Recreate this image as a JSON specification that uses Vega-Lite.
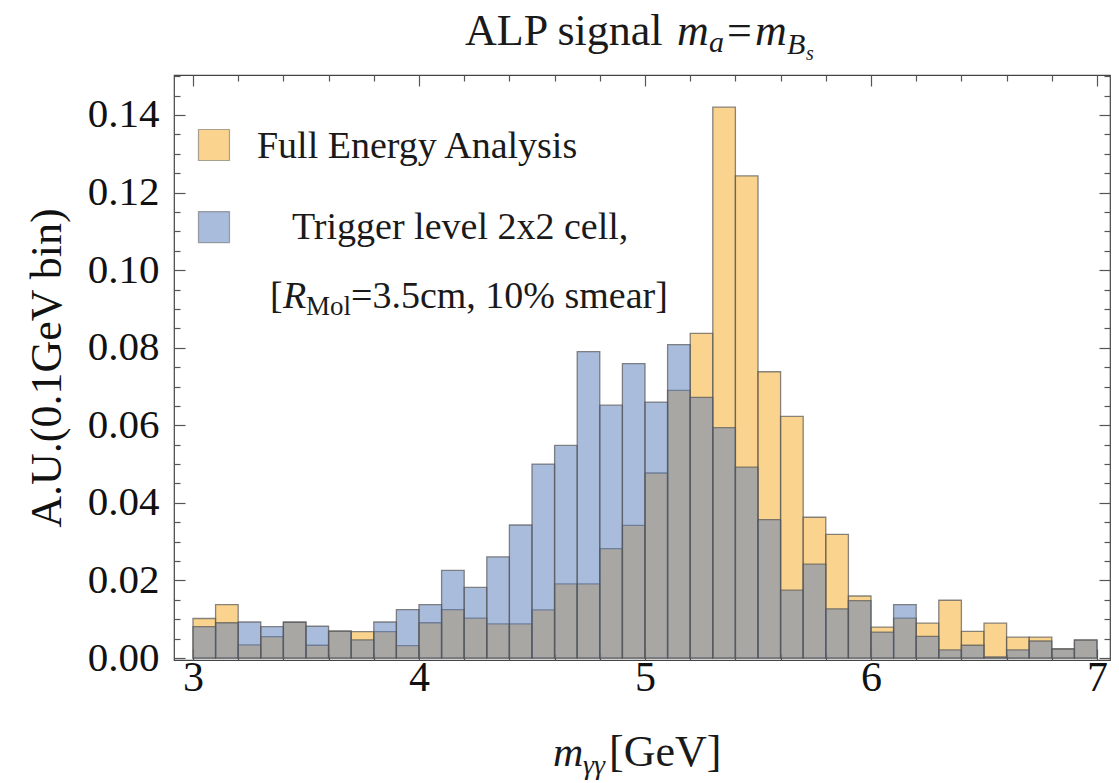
{
  "$schema": "https://vega.github.io/schema/vega-lite/v6.json",
  "width": 936,
  "height": 585,
  "autosize": {"type": "none"},
  "padding": {"left": 174, "top": 75, "right": 9, "bottom": 123},
  "background": "white",
  "config": {
    "view": {"stroke": "#444444", "strokeWidth": 1.2},
    "font": "Liberation Serif",
    "text": {"font": "Liberation Serif", "color": "#1a1a1a"}
  },
  "datasets": {
    "full": [
      {"x0": 3.0, "x1": 3.1, "y": 0.0102}, {"x0": 3.1, "x1": 3.2, "y": 0.0138},
      {"x0": 3.2, "x1": 3.3, "y": 0.0034}, {"x0": 3.3, "x1": 3.4, "y": 0.0055},
      {"x0": 3.4, "x1": 3.5, "y": 0.0093}, {"x0": 3.5, "x1": 3.6, "y": 0.0033},
      {"x0": 3.6, "x1": 3.7, "y": 0.0070}, {"x0": 3.7, "x1": 3.8, "y": 0.0068},
      {"x0": 3.8, "x1": 3.9, "y": 0.0068}, {"x0": 3.9, "x1": 4.0, "y": 0.0032},
      {"x0": 4.0, "x1": 4.1, "y": 0.0091}, {"x0": 4.1, "x1": 4.2, "y": 0.0125},
      {"x0": 4.2, "x1": 4.3, "y": 0.0103}, {"x0": 4.3, "x1": 4.4, "y": 0.0088},
      {"x0": 4.4, "x1": 4.5, "y": 0.0088}, {"x0": 4.5, "x1": 4.6, "y": 0.0124},
      {"x0": 4.6, "x1": 4.7, "y": 0.0191}, {"x0": 4.7, "x1": 4.8, "y": 0.0191},
      {"x0": 4.8, "x1": 4.9, "y": 0.0282}, {"x0": 4.9, "x1": 5.0, "y": 0.0342},
      {"x0": 5.0, "x1": 5.1, "y": 0.0477}, {"x0": 5.1, "x1": 5.2, "y": 0.0690},
      {"x0": 5.2, "x1": 5.3, "y": 0.0837}, {"x0": 5.3, "x1": 5.4, "y": 0.1420},
      {"x0": 5.4, "x1": 5.5, "y": 0.1243}, {"x0": 5.5, "x1": 5.6, "y": 0.0738},
      {"x0": 5.6, "x1": 5.7, "y": 0.0623}, {"x0": 5.7, "x1": 5.8, "y": 0.0363},
      {"x0": 5.8, "x1": 5.9, "y": 0.0319}, {"x0": 5.9, "x1": 6.0, "y": 0.0160},
      {"x0": 6.0, "x1": 6.1, "y": 0.0080}, {"x0": 6.1, "x1": 6.2, "y": 0.0103},
      {"x0": 6.2, "x1": 6.3, "y": 0.0090}, {"x0": 6.3, "x1": 6.4, "y": 0.0149},
      {"x0": 6.4, "x1": 6.5, "y": 0.0069}, {"x0": 6.5, "x1": 6.6, "y": 0.0090},
      {"x0": 6.6, "x1": 6.7, "y": 0.0054}, {"x0": 6.7, "x1": 6.8, "y": 0.0054},
      {"x0": 6.8, "x1": 6.9, "y": 0.0024}, {"x0": 6.9, "x1": 7.0, "y": 0.0047}
    ],
    "trigger": [
      {"x0": 3.0, "x1": 3.1, "y": 0.0081}, {"x0": 3.1, "x1": 3.2, "y": 0.0091},
      {"x0": 3.2, "x1": 3.3, "y": 0.0093}, {"x0": 3.3, "x1": 3.4, "y": 0.0081},
      {"x0": 3.4, "x1": 3.5, "y": 0.0092}, {"x0": 3.5, "x1": 3.6, "y": 0.0082},
      {"x0": 3.6, "x1": 3.7, "y": 0.0069}, {"x0": 3.7, "x1": 3.8, "y": 0.0047},
      {"x0": 3.8, "x1": 3.9, "y": 0.0093}, {"x0": 3.9, "x1": 4.0, "y": 0.0125},
      {"x0": 4.0, "x1": 4.1, "y": 0.0138}, {"x0": 4.1, "x1": 4.2, "y": 0.0226},
      {"x0": 4.2, "x1": 4.3, "y": 0.0182}, {"x0": 4.3, "x1": 4.4, "y": 0.0261},
      {"x0": 4.4, "x1": 4.5, "y": 0.0343}, {"x0": 4.5, "x1": 4.6, "y": 0.0500},
      {"x0": 4.6, "x1": 4.7, "y": 0.0548}, {"x0": 4.7, "x1": 4.8, "y": 0.0790},
      {"x0": 4.8, "x1": 4.9, "y": 0.0652}, {"x0": 4.9, "x1": 5.0, "y": 0.0759},
      {"x0": 5.0, "x1": 5.1, "y": 0.0660}, {"x0": 5.1, "x1": 5.2, "y": 0.0808},
      {"x0": 5.2, "x1": 5.3, "y": 0.0672}, {"x0": 5.3, "x1": 5.4, "y": 0.0594},
      {"x0": 5.4, "x1": 5.5, "y": 0.0492}, {"x0": 5.5, "x1": 5.6, "y": 0.0357},
      {"x0": 5.6, "x1": 5.7, "y": 0.0175}, {"x0": 5.7, "x1": 5.8, "y": 0.0242},
      {"x0": 5.8, "x1": 5.9, "y": 0.0127}, {"x0": 5.9, "x1": 6.0, "y": 0.0148},
      {"x0": 6.0, "x1": 6.1, "y": 0.0067}, {"x0": 6.1, "x1": 6.2, "y": 0.0138},
      {"x0": 6.2, "x1": 6.3, "y": 0.0056}, {"x0": 6.3, "x1": 6.4, "y": 0.0021},
      {"x0": 6.4, "x1": 6.5, "y": 0.0033}, {"x0": 6.5, "x1": 6.6, "y": 0.0003},
      {"x0": 6.6, "x1": 6.7, "y": 0.0021}, {"x0": 6.7, "x1": 6.8, "y": 0.0044},
      {"x0": 6.8, "x1": 6.9, "y": 0.0023}, {"x0": 6.9, "x1": 7.0, "y": 0.0046}
    ]
  },
  "layer": [
    {
      "data": {"name": "full"},
      "mark": {"type": "bar", "fill": "#F5A91D", "fillOpacity": 0.5, "stroke": "#555555", "strokeOpacity": 0.7, "strokeWidth": 1.3},
      "encoding": {
        "x": {
          "field": "x0", "type": "quantitative",
          "scale": {"domain": [2.916, 7.0575], "nice": false, "zero": false},
          "axis": {
            "orient": "bottom",
            "values": [3, 3.2, 3.4, 3.6, 3.8, 4, 4.2, 4.4, 4.6, 4.8, 5, 5.2, 5.4, 5.6, 5.8, 6, 6.2, 6.4, 6.6, 6.8, 7],
            "labelExpr": "abs(datum.value - round(datum.value)) < 1e-6 ? format(datum.value, '.0f') : ''",
            "tickSize": {"condition": {"test": "abs(datum.value - round(datum.value)) < 1e-6", "value": -11}, "value": -6},
            "tickColor": "#555555", "tickWidth": 1.2,
            "domain": false, "grid": false,
            "labelFont": "Liberation Serif", "labelFontSize": 42, "labelColor": "#111111",
            "labelPadding": 8, "labelOverlap": false, "labelFlush": false, "labelBound": false,
            "title": null
          }
        },
        "x2": {"field": "x1"},
        "y": {
          "field": "y", "type": "quantitative",
          "scale": {"domain": [-0.0005, 0.1503], "nice": false, "zero": false},
          "axis": {
            "orient": "left",
            "values": [0, 0.005, 0.01, 0.015, 0.02, 0.025, 0.03, 0.035, 0.04, 0.045, 0.05, 0.055, 0.06, 0.065, 0.07, 0.075, 0.08, 0.085, 0.09, 0.095, 0.1, 0.105, 0.11, 0.115, 0.12, 0.125, 0.13, 0.135, 0.14, 0.145, 0.15],
            "labelExpr": "abs(datum.value * 50 - round(datum.value * 50)) < 1e-6 ? format(datum.value, '.2f') : ''",
            "tickSize": {"condition": {"test": "abs(datum.value * 50 - round(datum.value * 50)) < 1e-6", "value": -11}, "value": -6},
            "tickColor": "#555555", "tickWidth": 1.2,
            "domain": false, "grid": false,
            "labelFont": "Liberation Serif", "labelFontSize": 41, "labelColor": "#111111",
            "labelPadding": 26, "labelOverlap": false, "labelFlush": false, "labelBound": false,
            "title": "A.U.(0.1GeV bin)",
            "titleFont": "Liberation Serif", "titleFontSize": 44, "titleFontWeight": "normal", "titleColor": "#111111",
            "titlePadding": 18
          }
        },
        "y2": {"datum": 0}
      }
    },
    {
      "data": {"name": "trigger"},
      "mark": {"type": "bar", "fill": "#5579B9", "fillOpacity": 0.5, "stroke": "#555555", "strokeOpacity": 0.7, "strokeWidth": 1.3},
      "encoding": {
        "x": {
          "field": "x0", "type": "quantitative",
          "scale": {"domain": [2.916, 7.0575], "nice": false, "zero": false},
          "axis": {
            "orient": "top",
            "values": [3, 3.2, 3.4, 3.6, 3.8, 4, 4.2, 4.4, 4.6, 4.8, 5, 5.2, 5.4, 5.6, 5.8, 6, 6.2, 6.4, 6.6, 6.8, 7],
            "labels": false,
            "tickSize": {"condition": {"test": "abs(datum.value - round(datum.value)) < 1e-6", "value": -11}, "value": -6},
            "tickColor": "#555555", "tickWidth": 1.2,
            "domain": false, "grid": false, "title": null
          }
        },
        "x2": {"field": "x1"},
        "y": {
          "field": "y", "type": "quantitative",
          "scale": {"domain": [-0.0005, 0.1503], "nice": false, "zero": false},
          "axis": {
            "orient": "right",
            "values": [0, 0.005, 0.01, 0.015, 0.02, 0.025, 0.03, 0.035, 0.04, 0.045, 0.05, 0.055, 0.06, 0.065, 0.07, 0.075, 0.08, 0.085, 0.09, 0.095, 0.1, 0.105, 0.11, 0.115, 0.12, 0.125, 0.13, 0.135, 0.14, 0.145, 0.15],
            "labels": false,
            "tickSize": {"condition": {"test": "abs(datum.value * 50 - round(datum.value * 50)) < 1e-6", "value": -11}, "value": -6},
            "tickColor": "#555555", "tickWidth": 1.2,
            "domain": false, "grid": false, "title": null
          }
        },
        "y2": {"datum": 0}
      }
    },
    {
      "data": {"values": [{}]},
      "mark": {"type": "square", "size": 961, "filled": true, "fill": "#F5A91D", "fillOpacity": 0.5, "stroke": "#555555", "strokeOpacity": 0.5, "strokeWidth": 1.2},
      "encoding": {
        "x": {"datum": 3.0929, "type": "quantitative", "scale": {"domain": [2.916, 7.0575], "nice": false, "zero": false}, "axis": null},
        "y": {"datum": 0.13225, "type": "quantitative", "scale": {"domain": [-0.0005, 0.1503], "nice": false, "zero": false}, "axis": null}
      }
    },
    {
      "data": {"values": [{}]},
      "mark": {"type": "square", "size": 961, "filled": true, "fill": "#5579B9", "fillOpacity": 0.5, "stroke": "#555555", "strokeOpacity": 0.5, "strokeWidth": 1.2},
      "encoding": {
        "x": {"datum": 3.0929, "type": "quantitative", "scale": {"domain": [2.916, 7.0575], "nice": false, "zero": false}, "axis": null},
        "y": {"datum": 0.11111, "type": "quantitative", "scale": {"domain": [-0.0005, 0.1503], "nice": false, "zero": false}, "axis": null}
      }
    },
    {
      "data": {"values": [{}]},
      "mark": {"type": "text", "text": "Full Energy Analysis", "fontSize": 38, "align": "left", "baseline": "alphabetic"},
      "encoding": {
        "x": {"datum": 3.2832, "type": "quantitative", "scale": {"domain": [2.916, 7.0575], "nice": false, "zero": false}, "axis": null},
        "y": {"datum": 0.1289, "type": "quantitative", "scale": {"domain": [-0.0005, 0.1503], "nice": false, "zero": false}, "axis": null}
      }
    },
    {
      "data": {"values": [{}]},
      "mark": {"type": "text", "text": "Trigger level 2x2 cell,", "fontSize": 38, "align": "left", "baseline": "alphabetic"},
      "encoding": {
        "x": {"datum": 3.4381, "type": "quantitative", "scale": {"domain": [2.916, 7.0575], "nice": false, "zero": false}, "axis": null},
        "y": {"datum": 0.10802, "type": "quantitative", "scale": {"domain": [-0.0005, 0.1503], "nice": false, "zero": false}, "axis": null}
      }
    },
    {
      "data": {"values": [{}]},
      "mark": {"type": "text", "text": "[", "fontSize": 38, "align": "left", "baseline": "alphabetic"},
      "encoding": {
        "x": {"datum": 3.3407, "type": "quantitative", "scale": {"domain": [2.916, 7.0575], "nice": false, "zero": false}, "axis": null},
        "y": {"datum": 0.09023, "type": "quantitative", "scale": {"domain": [-0.0005, 0.1503], "nice": false, "zero": false}, "axis": null}
      }
    },
    {
      "data": {"values": [{}]},
      "mark": {"type": "text", "text": "R", "fontSize": 38, "fontStyle": "italic", "align": "left", "baseline": "alphabetic"},
      "encoding": {
        "x": {"datum": 3.3982, "type": "quantitative", "scale": {"domain": [2.916, 7.0575], "nice": false, "zero": false}, "axis": null},
        "y": {"datum": 0.09023, "type": "quantitative", "scale": {"domain": [-0.0005, 0.1503], "nice": false, "zero": false}, "axis": null}
      }
    },
    {
      "data": {"values": [{}]},
      "mark": {"type": "text", "text": "Mol", "fontSize": 27, "align": "left", "baseline": "alphabetic"},
      "encoding": {
        "x": {"datum": 3.5, "type": "quantitative", "scale": {"domain": [2.916, 7.0575], "nice": false, "zero": false}, "axis": null},
        "y": {"datum": 0.08843, "type": "quantitative", "scale": {"domain": [-0.0005, 0.1503], "nice": false, "zero": false}, "axis": null}
      }
    },
    {
      "data": {"values": [{}]},
      "mark": {"type": "text", "text": "=3.5cm, 10% smear]", "fontSize": 38, "align": "left", "baseline": "alphabetic"},
      "encoding": {
        "x": {"datum": 3.6991, "type": "quantitative", "scale": {"domain": [2.916, 7.0575], "nice": false, "zero": false}, "axis": null},
        "y": {"datum": 0.09023, "type": "quantitative", "scale": {"domain": [-0.0005, 0.1503], "nice": false, "zero": false}, "axis": null}
      }
    },
    {
      "data": {"values": [{}]},
      "mark": {"type": "text", "text": "ALP signal", "fontSize": 44, "align": "left", "baseline": "alphabetic"},
      "encoding": {
        "x": {"datum": 4.2035, "type": "quantitative", "scale": {"domain": [2.916, 7.0575], "nice": false, "zero": false}, "axis": null},
        "y": {"datum": 0.15803, "type": "quantitative", "scale": {"domain": [-0.0005, 0.1503], "nice": false, "zero": false}, "axis": null}
      }
    },
    {
      "data": {"values": [{}]},
      "mark": {"type": "text", "text": "m", "fontSize": 44, "fontStyle": "italic", "align": "left", "baseline": "alphabetic"},
      "encoding": {
        "x": {"datum": 5.1416, "type": "quantitative", "scale": {"domain": [2.916, 7.0575], "nice": false, "zero": false}, "axis": null},
        "y": {"datum": 0.15803, "type": "quantitative", "scale": {"domain": [-0.0005, 0.1503], "nice": false, "zero": false}, "axis": null}
      }
    },
    {
      "data": {"values": [{}]},
      "mark": {"type": "text", "text": "a", "fontSize": 30, "fontStyle": "italic", "align": "left", "baseline": "alphabetic"},
      "encoding": {
        "x": {"datum": 5.2832, "type": "quantitative", "scale": {"domain": [2.916, 7.0575], "nice": false, "zero": false}, "axis": null},
        "y": {"datum": 0.15623, "type": "quantitative", "scale": {"domain": [-0.0005, 0.1503], "nice": false, "zero": false}, "axis": null}
      }
    },
    {
      "data": {"values": [{}]},
      "mark": {"type": "text", "text": "=", "fontSize": 44, "align": "left", "baseline": "alphabetic"},
      "encoding": {
        "x": {"datum": 5.3628, "type": "quantitative", "scale": {"domain": [2.916, 7.0575], "nice": false, "zero": false}, "axis": null},
        "y": {"datum": 0.15803, "type": "quantitative", "scale": {"domain": [-0.0005, 0.1503], "nice": false, "zero": false}, "axis": null}
      }
    },
    {
      "data": {"values": [{}]},
      "mark": {"type": "text", "text": "m", "fontSize": 44, "fontStyle": "italic", "align": "left", "baseline": "alphabetic"},
      "encoding": {
        "x": {"datum": 5.4867, "type": "quantitative", "scale": {"domain": [2.916, 7.0575], "nice": false, "zero": false}, "axis": null},
        "y": {"datum": 0.15803, "type": "quantitative", "scale": {"domain": [-0.0005, 0.1503], "nice": false, "zero": false}, "axis": null}
      }
    },
    {
      "data": {"values": [{}]},
      "mark": {"type": "text", "text": "B", "fontSize": 30, "fontStyle": "italic", "align": "left", "baseline": "alphabetic"},
      "encoding": {
        "x": {"datum": 5.6283, "type": "quantitative", "scale": {"domain": [2.916, 7.0575], "nice": false, "zero": false}, "axis": null},
        "y": {"datum": 0.15571, "type": "quantitative", "scale": {"domain": [-0.0005, 0.1503], "nice": false, "zero": false}, "axis": null}
      }
    },
    {
      "data": {"values": [{}]},
      "mark": {"type": "text", "text": "s", "fontSize": 20, "fontStyle": "italic", "align": "left", "baseline": "alphabetic"},
      "encoding": {
        "x": {"datum": 5.7124, "type": "quantitative", "scale": {"domain": [2.916, 7.0575], "nice": false, "zero": false}, "axis": null},
        "y": {"datum": 0.15416, "type": "quantitative", "scale": {"domain": [-0.0005, 0.1503], "nice": false, "zero": false}, "axis": null}
      }
    },
    {
      "data": {"values": [{}]},
      "mark": {"type": "text", "text": "m", "fontSize": 42, "fontStyle": "italic", "align": "left", "baseline": "alphabetic"},
      "encoding": {
        "x": {"datum": 4.5929, "type": "quantitative", "scale": {"domain": [2.916, 7.0575], "nice": false, "zero": false}, "axis": null},
        "y": {"datum": -0.02784, "type": "quantitative", "scale": {"domain": [-0.0005, 0.1503], "nice": false, "zero": false}, "axis": null}
      }
    },
    {
      "data": {"values": [{}]},
      "mark": {"type": "text", "text": "γγ", "fontSize": 28, "fontStyle": "italic", "align": "left", "baseline": "alphabetic"},
      "encoding": {
        "x": {"datum": 4.7257, "type": "quantitative", "scale": {"domain": [2.916, 7.0575], "nice": false, "zero": false}, "axis": null},
        "y": {"datum": -0.0299, "type": "quantitative", "scale": {"domain": [-0.0005, 0.1503], "nice": false, "zero": false}, "axis": null}
      }
    },
    {
      "data": {"values": [{}]},
      "mark": {"type": "text", "text": "[GeV]", "fontSize": 44, "align": "left", "baseline": "alphabetic"},
      "encoding": {
        "x": {"datum": 4.8407, "type": "quantitative", "scale": {"domain": [2.916, 7.0575], "nice": false, "zero": false}, "axis": null},
        "y": {"datum": -0.02784, "type": "quantitative", "scale": {"domain": [-0.0005, 0.1503], "nice": false, "zero": false}, "axis": null}
      }
    }
  ],
  "resolve": {"axis": {"x": "independent", "y": "independent"}}
}
